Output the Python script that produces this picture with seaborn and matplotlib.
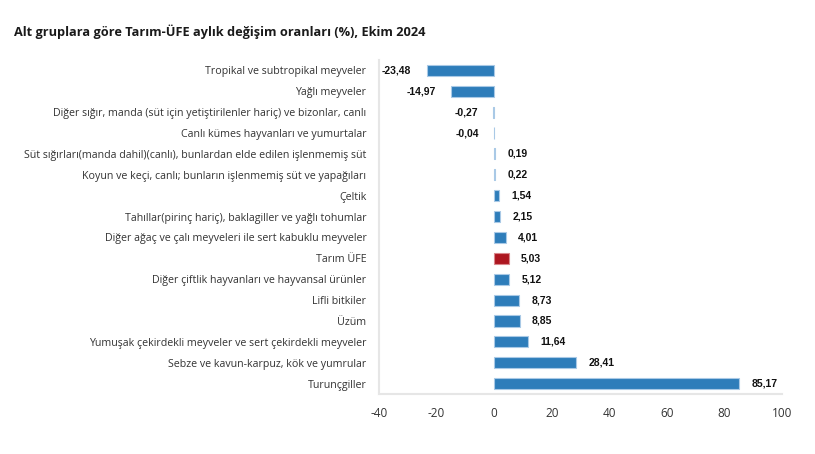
import matplotlib
matplotlib.use("Agg")
import matplotlib.pyplot as plt
import seaborn as sns
import pandas as pd

categories = [
    "Tropikal ve subtropikal meyveler",
    "Yağlı meyveler",
    "Diğer sığır, manda (süt için yetiştirilenler hariç) ve bizonlar, canlı",
    "Canlı kümes hayvanları ve yumurtalar",
    "Süt sığırları(manda dahil)(canlı), bunlardan elde edilen işlenmemiş süt",
    "Koyun ve keçi, canlı; bunların işlenmemiş süt ve yapağıları",
    "Çeltik",
    "Tahıllar(pirinç hariç), baklagiller ve yağlı tohumlar",
    "Diğer ağaç ve çalı meyveleri ile sert kabuklu meyveler",
    "Tarım ÜFE",
    "Diğer çiftlik hayvanları ve hayvansal ürünler",
    "Lifli bitkiler",
    "Üzüm",
    "Yumuşak çekirdekli meyveler ve sert çekirdekli meyveler",
    "Sebze ve kavun-karpuz, kök ve yumrular",
    "Turunçgiller",
]
values = [-23.48, -14.97, -0.27, -0.04, 0.19, 0.22, 1.54, 2.15, 4.01, 5.03,
          5.12, 8.73, 8.85, 11.64, 28.41, 85.17]
highlight = "Tarım ÜFE"
xticks = [-40, -20, 0, 20, 40, 60, 80, 100]

df = pd.DataFrame({"cat": categories, "val": values})
df["grp"] = ["h" if c == highlight else "n" for c in categories]

sns.set_theme(style="white")
plt.rcParams["font.family"] = ["Open Sans", "DejaVu Sans"]

fig = plt.figure(figsize=(8.15, 4.54), dpi=100)
ax = fig.add_axes([0.465, 0.132, 0.4945, 0.736])

sns.barplot(data=df, y="cat", x="val", hue="grp",
            palette={"n": "#2E7DBA", "h": "#AD1620"}, saturation=1,
            dodge=False, legend=False, width=0.53, ax=ax, orient="h")

for p, g in zip(ax.patches, df["grp"]):
    pass
for p in ax.patches:
    fc = p.get_facecolor()
    if fc[0] > 0.5:
        p.set_edgecolor("#D9868B")
    else:
        p.set_edgecolor("#A9C9E6")
    p.set_linewidth(0.8)

ax.set_xlim(-40, 100)
ax.set_ylim(15.5, -0.5)
ax.set_xticks(xticks)
ax.set_xticklabels([str(t) for t in xticks], fontsize=8.5, color="#333333")
ax.tick_params(axis="y", labelsize=7.65, colors="#333333", length=0, pad=9)
ax.tick_params(axis="x", length=0, pad=9)
ax.set_xlabel("")
ax.set_ylabel("")
for s in ["top", "right"]:
    ax.spines[s].set_visible(False)
for s in ["left", "bottom"]:
    ax.spines[s].set_color("#E6E6E6")
    ax.spines[s].set_linewidth(1.5)

for i, v in enumerate(values):
    txt = f"{v:.2f}".replace(".", ",")
    if v < 0:
        ax.annotate(txt, (v, i), xytext=(-11, 0), textcoords="offset points",
                    ha="right", va="center", fontsize=7.5, fontweight="bold",
                    family="Liberation Sans", color="#111111")
    else:
        ax.annotate(txt, (v, i), xytext=(9, 0), textcoords="offset points",
                    ha="left", va="center", fontsize=7.5, fontweight="bold",
                    family="Liberation Sans", color="#111111")

fig.text(0.017, 0.93, "Alt gruplara göre Tarım-ÜFE aylık değişim oranları (%), Ekim 2024",
         fontsize=9.2, fontweight="bold", color="#1a1a1a", ha="left", va="center")

fig.savefig("out.png", dpi=100)
